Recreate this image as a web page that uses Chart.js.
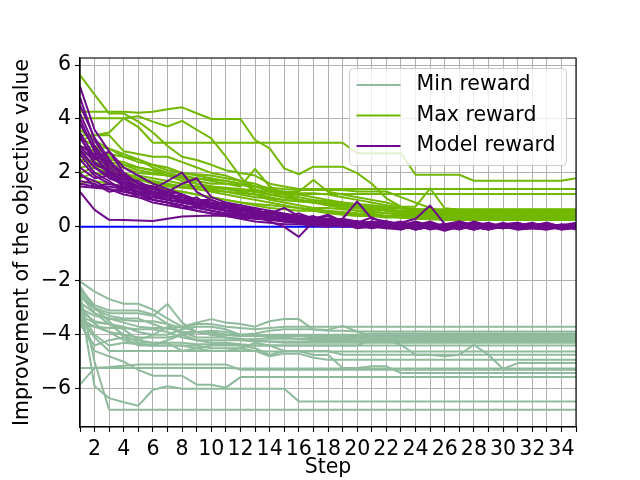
<!DOCTYPE html>
<html>
<head>
<meta charset="utf-8">
<script src="https://cdn.jsdelivr.net/npm/chart.js@4.4.1/dist/chart.umd.min.js"></script>
<style>html,body{margin:0;padding:0;background:#fff}</style>
</head>
<body>
<canvas id="chart" width="640" height="480"></canvas>
<script>
// x values (optimisation step) and tick positions
const steps = [1,2,3,4,5,6,7,8,9,10,11,12,13,14,15,16,17,18,19,20,21,22,23,24,25,26,27,28,29,30,31,32,33,34,35];
const yTicks = [-6,-4,-2,0,2,4,6];
const legendNames = ["Min reward", "Max reward", "Model reward"];

// zero reference line
const baseline = [0,0,0,0,0,0,0,0,0,0,0,0,0,0,0,0,0,0,0,0,0,0,0,0,0,0,0,0,0,0,0,0,0,0,0];

// one row per run
const minRuns = [
  [-2.03,-2.4,-2.68,-2.85,-2.85,-3.07,-3.4,-3.7,-3.9,-3.95,-4.0,-4.0,-4.05,-4.05,-4.05,-4.05,-4.1,-4.1,-4.1,-4.1,-4.1,-4.1,-4.1,-4.1,-4.1,-4.1,-4.1,-4.1,-4.1,-4.1,-4.1,-4.1,-4.1,-4.1,-4.1],
  [-2.6,-3.0,-3.2,-3.2,-3.2,-3.3,-2.86,-3.55,-3.9,-4.0,-4.0,-4.05,-4.05,-4.0,-4.0,-4.0,-4.0,-4.0,-4.0,-4.0,-3.95,-3.95,-3.95,-3.95,-3.95,-3.95,-3.95,-3.95,-3.95,-3.95,-3.95,-3.95,-3.95,-3.95,-3.95],
  [-2.4,-3.05,-3.3,-3.4,-3.4,-3.6,-3.8,-3.7,-3.55,-3.42,-3.55,-3.6,-3.7,-3.5,-3.42,-3.42,-3.81,-3.85,-3.85,-3.88,-3.88,-3.88,-3.88,-3.88,-3.88,-3.88,-3.88,-3.88,-3.88,-3.88,-3.88,-3.88,-3.88,-3.88,-3.88],
  [-2.8,-3.2,-3.4,-3.55,-3.7,-3.75,-3.75,-3.9,-3.9,-3.85,-3.9,-4.0,-3.95,-3.85,-3.8,-3.8,-3.8,-3.82,-3.67,-3.88,-4.06,-4.06,-4.06,-4.06,-4.02,-4.02,-4.02,-4.02,-4.02,-4.02,-4.02,-4.02,-4.02,-4.02,-4.02],
  [-2.3,-2.9,-3.1,-3.1,-3.1,-3.25,-3.6,-3.75,-3.6,-3.6,-3.7,-3.75,-3.8,-3.75,-3.7,-3.7,-3.7,-3.7,-3.7,-3.7,-3.7,-3.7,-3.7,-3.7,-3.7,-3.7,-3.7,-3.7,-3.7,-3.7,-3.7,-3.7,-3.7,-3.7,-3.7],
  [-3.0,-3.3,-3.4,-3.45,-3.5,-3.5,-3.6,-4.0,-4.2,-4.2,-4.2,-4.2,-4.15,-4.15,-4.15,-4.15,-4.2,-4.2,-4.2,-4.2,-4.2,-4.2,-4.2,-4.2,-4.2,-4.2,-4.2,-4.2,-4.2,-4.2,-4.2,-4.2,-4.2,-4.2,-4.2],
  [-3.3,-3.55,-3.6,-3.7,-3.9,-4.0,-3.7,-3.9,-4.1,-4.1,-4.1,-4.15,-4.2,-4.25,-4.3,-4.3,-4.3,-4.3,-4.3,-4.3,-4.3,-4.3,-4.3,-4.3,-4.3,-4.3,-4.3,-4.3,-4.3,-4.3,-4.3,-4.3,-4.3,-4.3,-4.3],
  [-2.5,-3.2,-3.6,-3.8,-4.2,-4.0,-4.0,-3.8,-3.7,-3.7,-3.8,-4.0,-4.0,-4.1,-4.1,-4.15,-4.15,-4.15,-4.15,-4.15,-4.15,-4.15,-4.15,-4.15,-4.15,-4.15,-4.15,-4.15,-4.15,-4.15,-4.15,-4.15,-4.15,-4.15,-4.15],
  [-3.1,-3.5,-3.6,-4.0,-4.3,-4.3,-4.3,-4.3,-4.35,-4.35,-4.35,-4.4,-4.4,-4.4,-4.4,-4.4,-4.4,-4.4,-4.4,-4.4,-4.2,-4.2,-4.37,-4.74,-4.74,-4.8,-4.74,-4.37,-4.74,-5.27,-5.05,-5.05,-5.05,-5.05,-5.05],
  [-2.9,-3.6,-3.9,-4.2,-4.35,-4.4,-4.4,-4.4,-4.5,-4.6,-4.6,-4.5,-4.3,-4.4,-4.6,-4.6,-4.75,-4.74,-5.23,-5.23,-5.17,-5.17,-5.42,-5.42,-5.42,-5.42,-5.42,-5.42,-5.42,-5.42,-5.42,-5.42,-5.42,-5.42,-5.42],
  [-3.4,-4.1,-4.6,-4.6,-4.6,-4.6,-4.6,-4.6,-4.6,-4.6,-4.6,-4.6,-4.6,-4.62,-4.62,-4.62,-4.62,-4.62,-4.62,-4.62,-4.62,-4.62,-4.62,-4.62,-4.62,-4.62,-4.62,-4.62,-4.62,-4.62,-4.62,-4.62,-4.62,-4.62,-4.62],
  [-3.6,-4.4,-4.2,-4.1,-4.2,-4.3,-4.3,-4.6,-4.5,-4.4,-4.4,-4.4,-4.5,-4.75,-4.6,-4.6,-4.6,-4.6,-4.74,-4.74,-4.74,-4.74,-4.74,-4.74,-4.74,-4.74,-4.74,-4.74,-4.74,-4.74,-4.74,-4.74,-4.74,-4.74,-4.74],
  [-3.2,-4.0,-4.4,-4.3,-4.35,-4.4,-4.4,-4.4,-4.4,-4.5,-4.5,-4.5,-4.6,-4.8,-4.7,-4.7,-4.85,-4.93,-4.93,-4.93,-4.93,-4.93,-4.93,-4.93,-4.93,-4.93,-4.93,-4.93,-4.93,-4.93,-4.93,-4.93,-4.93,-4.93,-4.93],
  [-5.23,-5.23,-5.23,-5.23,-5.23,-5.23,-5.23,-5.23,-5.23,-5.23,-5.23,-5.25,-5.25,-5.25,-5.25,-5.25,-5.25,-5.25,-5.25,-5.25,-5.25,-5.25,-5.25,-5.25,-5.25,-5.25,-5.25,-5.25,-5.25,-5.25,-5.25,-5.25,-5.25,-5.25,-5.25],
  [-5.85,-5.23,-5.2,-5.15,-5.1,-5.1,-5.1,-5.1,-5.1,-5.1,-5.1,-5.3,-5.3,-5.3,-5.3,-5.3,-5.3,-5.3,-5.3,-5.3,-5.3,-5.3,-5.3,-5.3,-5.3,-5.3,-5.3,-5.3,-5.3,-5.3,-5.3,-5.3,-5.3,-5.3,-5.3],
  [-3.5,-4.6,-4.8,-5.0,-5.3,-5.52,-5.52,-5.52,-5.85,-5.85,-5.96,-5.57,-5.57,-5.57,-5.57,-5.57,-5.57,-5.57,-5.57,-5.57,-5.57,-5.57,-5.57,-5.57,-5.57,-5.57,-5.57,-5.57,-5.57,-5.57,-5.57,-5.57,-5.57,-5.57,-5.57],
  [-2.7,-5.91,-6.35,-6.5,-6.63,-6.04,-5.91,-6.0,-6.0,-6.0,-6.0,-6.0,-6.0,-6.0,-6.0,-6.47,-6.47,-6.47,-6.47,-6.47,-6.47,-6.47,-6.47,-6.47,-6.47,-6.47,-6.47,-6.47,-6.47,-6.47,-6.47,-6.47,-6.47,-6.47,-6.47],
  [-2.5,-5.0,-6.78,-6.78,-6.78,-6.78,-6.78,-6.78,-6.78,-6.78,-6.78,-6.78,-6.78,-6.78,-6.78,-6.78,-6.78,-6.78,-6.78,-6.78,-6.78,-6.78,-6.78,-6.78,-6.78,-6.78,-6.78,-6.78,-6.78,-6.78,-6.78,-6.78,-6.78,-6.78,-6.78],
  [-3.6,-3.7,-3.75,-3.75,-3.8,-3.8,-3.9,-4.1,-4.2,-4.3,-4.3,-4.35,-4.4,-4.4,-4.4,-4.4,-4.4,-4.4,-4.4,-4.4,-4.4,-4.4,-4.4,-4.4,-4.4,-4.4,-4.4,-4.4,-4.4,-4.4,-4.4,-4.4,-4.4,-4.4,-4.4],
  [-2.2,-3.0,-3.5,-4.1,-4.4,-4.4,-4.2,-4.0,-3.9,-4.0,-4.1,-4.2,-4.25,-4.25,-4.25,-4.25,-4.25,-4.25,-4.25,-4.25,-4.25,-4.25,-4.25,-4.25,-4.25,-4.25,-4.25,-4.25,-4.25,-4.25,-4.25,-4.25,-4.25,-4.25,-4.25],
  [-3.4,-3.7,-3.9,-4.0,-4.1,-4.1,-4.1,-4.0,-3.9,-3.9,-4.0,-4.05,-4.05,-4.05,-4.05,-4.05,-4.05,-4.05,-4.05,-4.05,-4.05,-4.05,-4.05,-4.05,-4.05,-4.05,-4.05,-4.05,-4.05,-4.05,-4.05,-4.05,-4.05,-4.05,-4.05]
];

const maxRuns = [
  [4.27,4.27,4.27,4.27,4.23,4.27,4.36,4.43,4.21,4.0,4.0,4.0,3.22,2.91,2.17,1.95,2.23,2.23,2.23,1.99,1.6,1.06,0.75,0.75,1.43,0.69,0.63,0.63,0.63,0.63,0.63,0.63,0.63,0.63,0.63],
  [4.03,4.03,4.03,4.03,3.7,3.12,3.12,3.12,3.12,3.12,3.12,3.12,3.12,3.12,3.12,3.12,3.12,3.12,3.12,2.73,2.73,2.73,2.73,1.93,1.93,1.93,1.93,1.71,1.71,1.71,1.71,1.71,1.71,1.71,1.8],
  [5.63,4.9,4.2,4.2,3.9,3.5,3.0,2.6,2.48,2.3,2.1,2.0,1.9,1.6,1.5,1.4,1.4,1.4,1.4,1.4,1.4,1.4,1.4,1.4,1.4,1.4,1.4,1.4,1.4,1.4,1.4,1.4,1.4,1.4,1.4],
  [3.4,3.4,3.5,4.03,4.1,3.9,3.72,3.93,3.6,3.28,2.6,1.86,1.21,1.2,1.2,1.2,1.22,1.22,1.22,1.22,1.22,1.22,1.22,1.22,1.22,1.22,1.22,1.22,1.22,1.22,1.22,1.22,1.22,1.22,1.22],
  [2.9,3.0,2.6,2.3,2.1,2.0,1.9,1.8,1.7,1.6,1.6,1.5,2.15,1.5,1.2,1.0,0.9,0.8,0.75,0.7,0.65,0.6,0.55,0.55,0.55,0.55,0.55,0.55,0.55,0.55,0.55,0.55,0.55,0.55,0.55],
  [2.6,2.9,2.7,2.6,2.5,2.3,2.1,2.0,1.95,1.9,1.8,1.7,1.6,1.4,1.3,1.3,1.74,1.3,1.2,1.1,1.0,0.9,0.75,0.6,0.55,0.5,0.5,0.5,0.5,0.5,0.5,0.5,0.5,0.5,0.5],
  [3.2,3.4,3.4,2.8,2.7,2.6,2.6,2.4,2.2,2.0,1.9,1.7,1.5,1.35,1.3,1.25,1.25,1.2,1.1,1.0,0.9,0.8,0.7,0.6,0.5,0.45,0.45,0.45,0.45,0.45,0.45,0.45,0.45,0.45,0.45],
  [3.0,2.8,2.5,2.4,2.2,2.1,1.9,1.7,1.6,1.5,1.4,1.3,1.2,1.1,1.0,0.95,0.9,0.85,0.8,0.75,0.7,0.65,0.6,0.6,0.6,0.6,0.6,0.6,0.6,0.6,0.6,0.6,0.6,0.6,0.6],
  [2.5,2.4,2.2,2.0,1.8,1.7,1.6,1.5,1.4,1.3,1.2,1.1,1.0,0.9,0.8,0.7,0.6,0.5,0.45,0.4,0.4,0.4,0.4,0.4,0.4,0.4,0.4,0.4,0.4,0.4,0.4,0.4,0.4,0.4,0.4],
  [2.2,2.3,2.1,1.9,1.75,1.6,1.5,1.45,1.4,1.35,1.3,1.25,1.2,1.0,0.9,0.8,0.7,0.7,0.65,0.6,0.55,0.5,0.5,0.45,0.45,0.45,0.45,0.45,0.45,0.45,0.45,0.45,0.45,0.45,0.45],
  [1.8,2.0,1.9,1.8,1.6,1.5,1.4,1.3,1.2,1.1,1.0,0.9,0.8,0.7,0.65,0.6,0.6,0.55,0.5,0.45,0.4,0.35,0.35,0.35,0.35,0.35,0.35,0.35,0.35,0.35,0.35,0.35,0.35,0.35,0.35],
  [3.3,3.0,2.9,2.7,2.5,2.2,2.0,1.8,1.6,1.5,1.45,1.4,1.35,1.3,1.25,1.2,1.1,1.0,0.9,0.8,0.7,0.6,0.55,0.5,0.5,0.5,0.5,0.5,0.5,0.5,0.5,0.5,0.5,0.5,0.5],
  [2.8,2.6,2.4,2.3,2.2,2.1,2.0,1.9,1.8,1.75,1.7,1.6,1.4,1.2,1.1,1.0,0.9,0.8,0.7,0.6,0.5,0.4,0.35,0.3,0.3,0.3,0.3,0.3,0.3,0.3,0.3,0.3,0.3,0.3,0.3],
  [1.6,1.7,1.6,1.5,1.45,1.4,1.35,1.3,1.2,1.1,1.0,0.9,0.85,0.8,0.75,0.7,0.65,0.6,0.55,0.5,0.45,0.4,0.35,0.3,0.28,0.25,0.25,0.25,0.25,0.25,0.25,0.25,0.25,0.25,0.25],
  [2.0,2.2,2.3,2.0,1.8,1.65,1.55,1.5,1.5,1.45,1.4,1.35,1.3,1.2,1.1,1.0,0.95,0.9,0.85,0.8,0.75,0.7,0.68,0.66,0.65,0.65,0.65,0.65,0.65,0.65,0.65,0.65,0.65,0.65,0.65],
  [3.6,3.2,2.9,2.6,2.4,2.3,2.2,2.0,1.9,1.8,1.7,1.6,1.5,1.45,1.4,1.37,1.37,1.37,1.37,1.31,1.31,1.31,1.1,0.9,0.7,0.55,0.55,0.55,0.55,0.55,0.55,0.55,0.55,0.55,0.55],
  [2.4,2.5,2.3,2.2,2.0,1.95,1.9,1.85,1.8,1.7,1.6,1.55,1.5,1.3,1.2,1.1,1.0,0.95,0.9,0.85,0.8,0.75,0.7,0.65,0.6,0.58,0.58,0.58,0.58,0.58,0.58,0.58,0.58,0.58,0.58],
  [2.7,2.2,2.0,1.9,1.9,1.8,1.7,1.6,1.5,1.4,1.3,1.2,1.1,1.05,1.0,0.95,0.9,0.85,0.8,0.7,0.6,0.5,0.45,0.42,0.4,0.4,0.4,0.4,0.4,0.4,0.4,0.4,0.4,0.4,0.4]
];

const modelRuns = [
  [5.2,3.6,2.8,2.2,1.9,1.6,1.4,1.2,1.0,0.9,0.8,0.7,0.6,0.5,0.45,0.4,0.35,0.3,0.25,0.2,0.15,0.2,0.1,0.15,0.05,0.1,0.2,0.05,0.1,0.0,0.05,0.15,0.0,0.05,0.1],
  [4.8,3.2,2.4,2.0,1.6,1.4,1.7,2.01,1.3,1.0,0.8,0.65,0.5,0.4,0.3,0.25,0.2,0.05,0.15,0.1,-0.05,0.1,0.2,0.0,0.05,-0.1,0.05,0.1,0.0,-0.05,0.1,0.0,0.15,-0.05,0.0],
  [1.3,0.63,0.26,0.25,0.24,0.22,0.3,0.38,0.4,0.42,0.4,0.3,0.2,0.15,0.1,0.1,0.05,0.0,0.1,-0.05,0.0,0.1,-0.1,0.05,0.0,0.1,-0.05,0.0,-0.1,0.05,0.0,-0.05,0.1,0.0,-0.05],
  [3.0,2.4,2.0,1.6,1.3,1.1,1.0,0.9,0.8,0.7,0.6,0.5,0.4,0.2,0.0,-0.37,0.2,0.1,0.0,0.05,0.15,-0.05,-0.1,0.1,0.0,-0.05,0.15,0.0,-0.1,0.05,0.1,-0.05,-0.1,0.0,0.05],
  [2.8,2.2,1.9,1.6,1.5,1.3,1.2,1.0,0.9,0.8,0.7,0.6,0.5,0.4,0.35,0.3,0.25,0.2,0.15,0.1,0.1,0.05,0.15,0.3,0.79,0.1,0.0,-0.05,0.1,0.05,-0.05,0.1,0.05,-0.05,0.05],
  [3.5,2.6,2.0,1.7,1.5,1.3,1.1,1.0,0.9,0.8,0.7,0.6,0.55,0.5,0.4,0.3,0.2,0.15,0.3,0.94,0.3,0.2,0.05,0.15,-0.05,0.1,0.05,-0.1,0.0,0.1,-0.05,0.0,0.1,-0.1,0.0],
  [4.2,3.0,2.3,1.9,1.6,1.5,1.3,1.6,1.8,1.1,0.9,0.8,0.7,0.6,0.5,0.4,0.3,0.45,0.2,0.15,0.35,0.1,0.05,0.2,0.05,0.0,0.15,0.1,-0.05,0.05,0.15,0.0,-0.05,0.1,0.05],
  [1.5,1.45,1.4,1.3,1.2,1.1,1.0,0.9,0.8,0.75,0.7,0.65,0.5,0.4,0.3,0.25,0.2,0.25,0.1,0.15,0.1,-0.05,0.05,-0.1,0.05,0.0,-0.1,0.05,0.15,0.0,-0.05,0.05,0.0,-0.1,-0.05],
  [1.7,1.6,1.3,1.4,1.1,1.0,0.9,0.8,0.6,0.5,0.45,0.4,0.35,0.3,0.2,0.15,0.1,0.15,0.05,0.05,-0.05,0.05,0.1,-0.1,0.0,0.1,-0.05,0.05,0.0,0.1,-0.1,-0.05,0.0,0.05,-0.1],
  [3.3,2.5,2.8,2.0,1.6,1.2,1.3,1.0,0.85,0.9,0.6,0.55,0.7,0.4,0.3,0.35,0.2,0.1,0.15,0.1,0.05,0.2,0.0,0.05,0.1,-0.05,0.05,0.15,0.0,-0.05,0.05,0.0,0.1,0.05,-0.05],
  [2.5,1.9,1.6,1.5,1.2,1.1,1.2,0.9,0.8,0.7,0.75,0.6,0.5,0.55,0.4,0.3,0.25,0.2,0.1,0.2,0.1,0.0,0.05,0.05,0.15,-0.05,0.0,-0.1,0.05,0.1,0.0,0.05,0.1,-0.05,0.0],
  [3.8,2.9,2.2,1.8,1.7,1.4,1.2,1.1,1.0,0.8,0.7,0.6,0.5,0.6,0.45,0.3,0.4,0.2,0.25,0.1,0.2,0.1,0.0,0.15,0.05,0.0,0.2,0.05,0.0,0.1,0.15,0.0,0.05,0.0,0.1],
  [2.2,1.8,1.9,1.5,1.3,1.2,1.0,0.9,1.1,0.7,0.6,0.5,0.45,0.3,0.35,0.2,0.1,0.2,0.1,0.0,0.05,0.15,-0.05,0.0,0.1,-0.05,0.05,-0.1,0.05,0.0,-0.05,0.1,0.0,0.05,-0.05],
  [4.5,3.3,2.5,1.8,1.5,1.2,1.0,1.2,0.9,0.8,0.6,0.5,0.4,0.35,0.3,0.2,0.2,0.15,0.1,0.05,0.0,-0.05,0.05,-0.1,0.0,0.05,-0.05,0.0,-0.1,0.0,0.05,-0.05,-0.1,0.0,-0.05],
  [2.0,1.5,1.5,1.4,1.3,1.0,0.9,0.8,0.7,0.6,0.5,0.45,0.4,0.3,0.25,0.2,0.1,0.1,0.05,0.0,0.1,0.0,-0.05,0.05,0.0,-0.1,0.0,0.05,0.0,0.1,0.0,0.05,0.0,-0.05,0.05],
  [3.0,2.7,1.9,1.9,1.6,1.4,1.3,1.2,1.0,1.0,0.8,0.7,0.6,0.5,0.7,0.4,0.3,0.25,0.2,0.2,0.1,0.15,0.1,0.05,0.2,0.0,0.05,0.1,0.0,0.15,0.0,0.05,0.1,0.05,0.15],
  [1.6,1.5,1.6,1.45,1.3,1.2,1.1,1.0,0.9,0.85,0.8,0.7,0.6,0.5,0.4,0.35,0.3,0.4,0.2,0.15,0.1,0.1,0.05,0.0,0.1,0.05,0.0,0.05,-0.05,0.0,0.05,0.1,0.0,0.0,0.05],
  [2.7,2.0,1.7,1.3,1.2,1.0,0.9,0.7,0.75,0.6,0.5,0.45,0.3,0.3,0.2,0.2,0.1,0.05,0.1,0.0,0.05,0.0,-0.05,0.05,-0.1,0.0,0.05,0.0,0.05,-0.05,0.05,0.0,-0.05,0.0,0.0],
  [3.4,2.3,2.1,1.7,1.4,1.3,1.1,1.0,0.9,0.8,0.9,0.7,0.6,0.5,0.4,0.5,0.3,0.2,0.2,0.1,0.2,0.1,0.05,0.0,0.05,0.1,0.0,0.2,0.05,0.1,0.0,0.05,0.15,0.0,0.05],
  [1.9,1.7,1.4,1.2,1.1,0.9,0.8,0.7,0.6,0.5,0.4,0.35,0.3,0.25,0.2,0.15,0.1,0.1,0.05,0.05,0.0,0.0,0.05,-0.05,0.0,-0.15,0.0,0.05,-0.05,0.0,-0.1,-0.05,0.0,-0.05,0.0],
  [2.9,2.2,1.8,1.6,1.4,1.5,1.2,1.1,0.9,0.8,0.7,0.8,0.6,0.5,0.4,0.3,0.3,0.2,0.3,0.2,0.1,0.2,0.1,0.0,0.1,0.0,0.05,0.1,0.0,0.05,0.05,0.0,0.1,0.0,0.05],
  [4.0,2.8,2.1,1.7,1.4,1.2,1.0,0.9,0.85,0.7,0.6,0.65,0.5,0.4,0.3,0.25,0.15,0.2,0.1,0.1,0.05,0.0,0.1,0.0,0.0,0.05,0.1,-0.05,0.0,0.05,0.0,0.0,0.1,0.05,0.0]
];

const FONT = "'DejaVu Sans', sans-serif";
const minColor = "#8fbb9c";
const maxColor = "#72b800";
const modelColor = "#6e0b8c";
const lineColors = [minColor, maxColor, modelColor];

function runSets(runs, color) {
  return runs.map(run => ({
    data: run.map((v, i) => ({ x: steps[i], y: v })),
    borderColor: color,
    borderWidth: 2,
    pointRadius: 0,
    borderJoinStyle: "round",
    fill: false
  }));
}

// first dataset ends up on top, so model first and the zero line last
const datasets = [
  ...runSets(modelRuns, modelColor),
  ...runSets(maxRuns, maxColor),
  ...runSets(minRuns, minColor),
  ...runSets([baseline], "#0000ff")
];

// matplotlib style closed frame round the axes
const frame = {
  id: "frame",
  afterDatasetsDraw(chart) {
    const { ctx, chartArea: a } = chart;
    ctx.save();
    ctx.strokeStyle = "#000";
    ctx.lineWidth = 1.1;
    ctx.strokeRect(a.left, a.top, a.right - a.left, a.bottom - a.top);
    ctx.restore();
  }
};

// legend box in the upper right corner of the plot
const boxLegend = {
  id: "boxLegend",
  afterDraw(chart) {
    const { ctx, chartArea: a } = chart;
    const w = 217, h = 97, r = 4;
    const x = a.right - 9.5 - w, y = a.top + 10.5;
    ctx.save();
    ctx.beginPath();
    ctx.moveTo(x + r, y);
    ctx.arcTo(x + w, y, x + w, y + h, r);
    ctx.arcTo(x + w, y + h, x, y + h, r);
    ctx.arcTo(x, y + h, x, y, r);
    ctx.arcTo(x, y, x + w, y, r);
    ctx.closePath();
    ctx.fillStyle = "rgba(255,255,255,0.8)";
    ctx.fill();
    ctx.strokeStyle = "#cccccc";
    ctx.lineWidth = 1;
    ctx.stroke();
    ctx.font = "20.5px " + FONT;
    ctx.textBaseline = "middle";
    ctx.textAlign = "left";
    legendNames.forEach((name, i) => {
      const ly = y + 16.5 + i * 30.5;
      ctx.strokeStyle = lineColors[i];
      ctx.lineWidth = 2;
      ctx.beginPath();
      ctx.moveTo(x + 7, ly);
      ctx.lineTo(x + 51, ly);
      ctx.stroke();
      ctx.fillStyle = "#000";
      ctx.fillText(name, x + 67, ly);
    });
    ctx.restore();
  }
};

const tickFont = { family: FONT, size: 20.5 };
const gridStyle = { color: "#b0b0b0", lineWidth: 1, tickColor: "#000", tickLength: 5, tickWidth: 1.1 };

new Chart(document.getElementById("chart"), {
  type: "line",
  data: { datasets },
  plugins: [frame, boxLegend],
  options: {
    responsive: false,
    animation: false,
    events: [],
    layout: { padding: { top: 58, right: 64, left: 0, bottom: 0 } },
    plugins: { legend: { display: false }, tooltip: { enabled: false } },
    scales: {
      x: {
        type: "linear",
        min: 1,
        max: 35,
        afterBuildTicks: s => { s.ticks = steps.map(v => ({ value: v })); },
        afterFit: s => { s.height = 53; },
        grid: gridStyle,
        border: { color: "#000", width: 1.1 },
        ticks: {
          autoSkip: false, maxRotation: 0, padding: 5, color: "#000", font: tickFont,
          callback: v => (v % 2 === 0 ? String(v) : "")
        },
        title: { display: true, text: "Step", color: "#000", font: tickFont, padding: { top: 0, bottom: 0 } }
      },
      y: {
        min: -7.42,
        max: 6.26,
        afterBuildTicks: s => { s.ticks = yTicks.map(v => ({ value: v })); },
        afterFit: s => { s.width = 80; },
        grid: gridStyle,
        border: { color: "#000", width: 1.1 },
        ticks: {
          padding: 4, color: "#000", font: tickFont,
          callback: v => String(v).replace("-", "\u2212")
        },
        title: {
          display: true, text: "Improvement of the objective value", color: "#000",
          font: tickFont, padding: { top: 10, bottom: 0 }
        }
      }
    }
  }
});
</script>
</body>
</html>
